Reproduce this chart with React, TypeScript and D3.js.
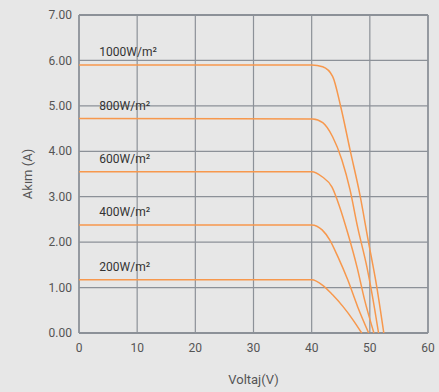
import { useRef, useEffect } from "react";
import * as d3 from "d3";

// irradiance levels (W/m²)
const levels = [1000, 800, 600, 400, 200];

// I-V curve points: [voltage, current]
const curve1000: [number, number][] = [
  [0, 5.9], [40, 5.9], [41.9, 5.86], [43.6, 5.65], [45.0, 4.98], [46.6, 4.03],
  [48.3, 3.04], [49.7, 2.05], [51.2, 1.01], [52.4, 0],
];
const curve800: [number, number][] = [
  [0, 4.72], [40.2, 4.71], [41.9, 4.63], [43.6, 4.32], [45.2, 3.81], [46.6, 3.15],
  [47.9, 2.33], [49.5, 1.45], [50.8, 0.55], [51.5, 0],
];
const curve600: [number, number][] = [
  [0, 3.55], [40, 3.55], [41.8, 3.44], [43.5, 3.21], [44.8, 2.78], [46.2, 2.2],
  [47.8, 1.45], [49.1, 0.73], [50.7, 0],
];
const curve400: [number, number][] = [
  [0, 2.38], [40, 2.38], [41.8, 2.27], [43.1, 2.05], [44.5, 1.68], [46.2, 1.17],
  [47.9, 0.58], [49.8, 0],
];
const curve200: [number, number][] = [
  [0, 1.17], [40, 1.17], [41.9, 1.05], [43.6, 0.84], [45.4, 0.58], [47.1, 0.29],
  [48.6, 0],
];
const curves = [curve1000, curve800, curve600, curve400, curve200];

const xTicks = [0, 10, 20, 30, 40, 50, 60];
const yTicks = [0, 1, 2, 3, 4, 5, 6, 7];

export default function App() {
  const ref = useRef<SVGSVGElement>(null);

  useEffect(() => {
    const svg = d3.select(ref.current);
    svg.selectAll("*").remove();

    const width = 439;
    const height = 392;
    const margin = { top: 15, right: 11, bottom: 59, left: 79 };
    const grid = "#8c9198";
    const font = "Roboto, sans-serif";

    svg.append("rect").attr("width", width).attr("height", height).attr("fill", "#e7e7e7");

    const x = d3.scaleLinear().domain([0, 60]).range([margin.left, width - margin.right]);
    const y = d3.scaleLinear().domain([0, 7]).range([height - margin.bottom, margin.top]);

    // grid lines
    svg.append("g")
      .selectAll("line")
      .data(xTicks)
      .join("line")
      .attr("x1", (d) => x(d)).attr("x2", (d) => x(d))
      .attr("y1", y(0)).attr("y2", y(7))
      .attr("stroke", grid).attr("stroke-width", (d) => (d === 0 || d === 60 ? 1.8 : 1.2));

    svg.append("g")
      .selectAll("line")
      .data(yTicks)
      .join("line")
      .attr("x1", x(0)).attr("x2", x(60))
      .attr("y1", (d) => y(d)).attr("y2", (d) => y(d))
      .attr("stroke", grid).attr("stroke-width", (d) => (d === 0 || d === 7 ? 1.8 : 1.2));

    // tick labels
    svg.append("g")
      .selectAll("text")
      .data(yTicks)
      .join("text")
      .attr("x", x(0) - 7)
      .attr("y", (d) => y(d))
      .attr("dy", "0.35em")
      .attr("text-anchor", "end")
      .attr("font-family", font)
      .attr("font-size", 12)
      .attr("fill", "#555")
      .text((d) => d3.format(".2f")(d));

    svg.append("g")
      .selectAll("text")
      .data(xTicks)
      .join("text")
      .attr("x", (d) => x(d))
      .attr("y", y(0) + 19)
      .attr("text-anchor", "middle")
      .attr("font-family", font)
      .attr("font-size", 12)
      .attr("fill", "#555")
      .text((d) => d);

    // axis titles
    svg.append("text")
      .attr("transform", `translate(32,${(y(0) + y(7)) / 2}) rotate(-90)`)
      .attr("text-anchor", "middle")
      .attr("font-family", font)
      .attr("font-size", 13)
      .attr("fill", "#555")
      .text("Akım (A)");

    svg.append("text")
      .attr("x", (x(0) + x(60)) / 2)
      .attr("y", 384)
      .attr("text-anchor", "middle")
      .attr("font-family", font)
      .attr("font-size", 13)
      .attr("fill", "#555")
      .text("Voltaj(V)");

    // curves
    const line = d3.line<[number, number]>()
      .x((d) => x(d[0]))
      .y((d) => y(d[1]))
      .curve(d3.curveMonotoneX);

    svg.append("g")
      .selectAll("path")
      .data(curves)
      .join("path")
      .attr("fill", "none")
      .attr("stroke", "#f7984d")
      .attr("stroke-width", 1.5)
      .attr("d", (d) => line(d));

    // level labels
    svg.append("g")
      .selectAll("text")
      .data(levels)
      .join("text")
      .attr("x", x(3.5))
      .attr("y", (d, i) => y(curves[i][0][1]) - 9)
      .attr("font-family", font)
      .attr("font-size", 12)
      .attr("fill", "#333")
      .text((d) => `${d}W/m²`);
  }, []);

  return <svg ref={ref} width={439} height={392} style={{ position: "absolute", left: 0, top: 0 }} />;
}
